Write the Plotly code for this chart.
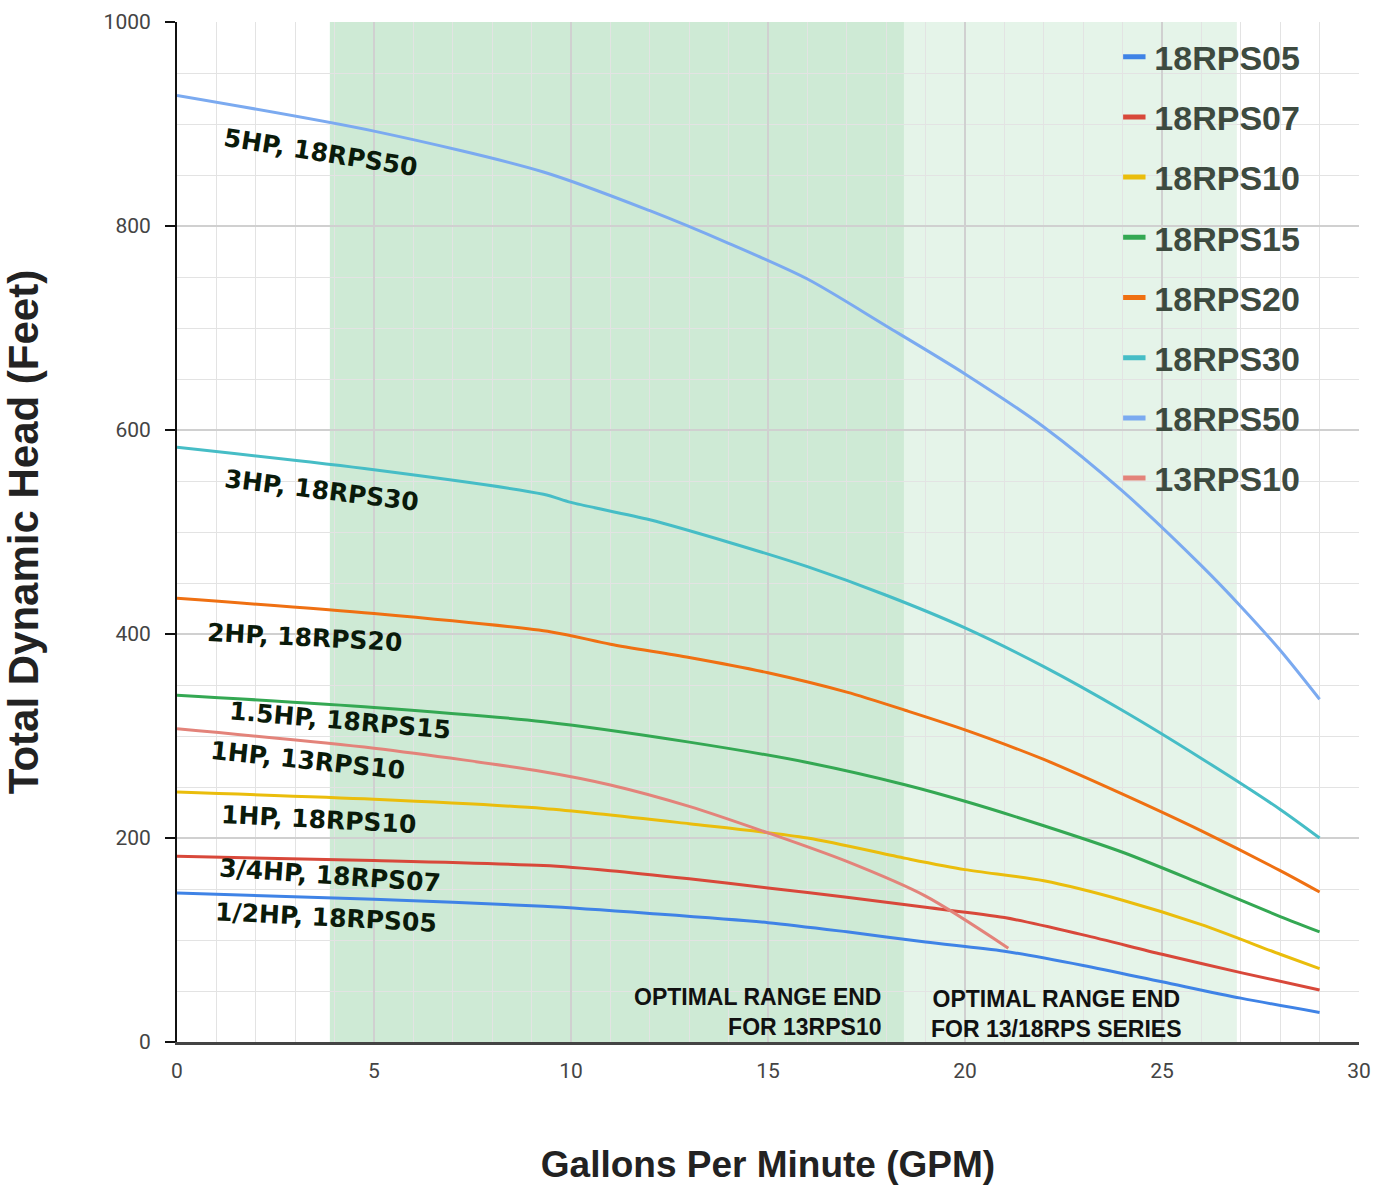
import plotly.graph_objects as go

# ---- data (GPM vs Total Dynamic Head, feet) ----
gpm_50 = [0, 5, 9.3, 12, 14, 16, 18, 20, 22, 24, 26, 27, 28, 29]
head_50 = [928, 893, 853, 815, 783, 748, 702, 655, 603, 540, 467, 427, 384, 336]

gpm_30 = [0, 5, 9.3, 10, 12, 14, 16, 18, 20, 22, 24, 26, 28, 29]
head_30 = [583, 561, 537, 529, 512, 490, 466, 438, 406, 368, 325, 278, 228, 200]

gpm_20 = [0, 5, 9.5, 11, 13, 15, 17, 18.5, 20, 22, 24, 26, 28, 29]
head_20 = [435, 420, 402, 390, 377, 362, 343, 325, 306, 277, 243, 207, 168, 147]

gpm_15 = [0, 5, 9.3, 13, 16, 18.5, 20, 22, 24, 26, 28, 29]
head_15 = [340, 328, 314, 294, 274, 252, 236, 212, 186, 155, 123, 108]

gpm_13_10 = [0, 5, 9.3, 11, 13, 15, 17, 19, 21.1]
head_13_10 = [307, 288, 265, 252, 231, 205, 177, 143, 92]

gpm_10 = [0, 5, 9.3, 13, 16, 18.5, 20, 22, 24, 26, 28, 29]
head_10 = [245, 238, 229, 214, 200, 180, 169, 158, 139, 115, 86, 72]

gpm_07 = [0, 5, 9.3, 11, 13, 15, 17, 19, 21, 23, 25, 27, 29]
head_07 = [182, 178, 173, 168, 160, 151, 142, 132, 122, 105, 86, 68, 51]

gpm_05 = [0, 5, 9.3, 12, 15, 17, 19, 21, 23, 25, 27, 29]
head_05 = [146, 140, 133, 126, 117, 108, 98, 89, 75, 59, 43, 29]

series_names = ["18RPS05", "18RPS07", "18RPS10", "18RPS15", "18RPS20", "18RPS30", "18RPS50", "13RPS10"]
series_x = [gpm_05, gpm_07, gpm_10, gpm_15, gpm_20, gpm_30, gpm_50, gpm_13_10]
series_y = [head_05, head_07, head_10, head_15, head_20, head_30, head_50, head_13_10]
series_colors = ["#3f83e6", "#d8483a", "#eabd0c", "#34a853", "#ef7012", "#46bdc6", "#7baaf0", "#e3837a"]

# curve labels: text, x (GPM), y (ft), angle
label_texts = ["5HP, 18RPS50", "3HP, 18RPS30", "2HP, 18RPS20", "1.5HP, 18RPS15",
               "1HP, 13RPS10", "1HP, 18RPS10", "3/4HP, 18RPS07", "1/2HP, 18RPS05"]
label_x = [3.63, 3.68, 3.24, 4.13, 3.32, 3.58, 3.88, 3.78]
label_y = [872, 541, 397, 315, 276, 218, 163, 122]
label_angle = [9, 7, 3, 5, 6, 3, 4, 3]

# optimal ranges (GPM)
optimal_start = 3.88
optimal_end_13rps10 = 18.45
optimal_end_series = 26.9

fig = go.Figure()

fig.add_vrect(x0=optimal_start, x1=optimal_end_series, fillcolor="rgba(52,168,83,0.13)",
              line_width=0, layer="below")
fig.add_vrect(x0=optimal_start, x1=optimal_end_13rps10, fillcolor="rgba(52,168,83,0.13)",
              line_width=0, layer="below")

for name, xs, ys, col in zip(series_names, series_x, series_y, series_colors):
    fig.add_trace(go.Scatter(
        x=xs, y=ys, name=name, mode="lines", showlegend=False,
        line=dict(color=col, width=3, shape="spline", smoothing=0.8),
        legendgroup=name,
    ))
    # legend swatch (short thick bar)
    fig.add_trace(go.Scatter(
        x=[None], y=[None], name=name, mode="markers", legendgroup=name,
        marker=dict(symbol="line-ew", size=16, color=col, line=dict(color=col, width=6)),
        hoverinfo="skip",
    ))

for t, x, y, a in zip(label_texts, label_x, label_y, label_angle):
    fig.add_annotation(x=x, y=y, text="<b>" + t + "</b>", showarrow=False, textangle=a,
                       font=dict(family="DejaVu Sans", size=25, color="#0a1a0a"))

fig.add_annotation(x=17.92, y=29.4, xanchor="right", yanchor="middle", align="right",
                   text="<b>OPTIMAL RANGE END<br>FOR 13RPS10</b>", showarrow=False,
                   font=dict(family="Liberation Sans", size=23, color="#111111"))
fig.add_annotation(x=22.33, y=27.5, xanchor="center", yanchor="middle", align="center",
                   text="<b>OPTIMAL RANGE END<br>FOR 13/18RPS SERIES</b>", showarrow=False,
                   font=dict(family="Liberation Sans", size=23, color="#111111"))

fig.update_layout(
    width=1378, height=1191,
    margin=dict(l=177, r=19, t=22, b=149),
    plot_bgcolor="rgba(0,0,0,0)", paper_bgcolor="white",
    showlegend=True,
    legend=dict(x=0.793, y=0.994, xanchor="left", yanchor="top", itemsizing="trace",
                bgcolor="rgba(0,0,0,0)", tracegroupgap=13,
                font=dict(family="Liberation Sans", size=34, color="#3d4a3f", weight="bold")),
    xaxis=dict(
        range=[0, 30], tickmode="linear", tick0=0, dtick=5, automargin=False,
        showgrid=True, gridcolor="#d0d0d0", gridwidth=1.5,
        minor=dict(dtick=1, showgrid=True, gridcolor="#e3e3e3", gridwidth=1.2),
        showline=True, linecolor="#444444", linewidth=2.5,
        ticks="", zeroline=False,
        tickfont=dict(family="Roboto", size=21, color="#444444"),
        ticklabelstandoff=8,
        title=dict(text="<b>Gallons Per Minute (GPM)</b>", standoff=70,
                   font=dict(family="Liberation Sans", size=37, color="#222222")),
    ),
    yaxis=dict(
        range=[0, 1000], tickmode="linear", tick0=0, dtick=200, automargin=False,
        showgrid=True, gridcolor="#d0d0d0", gridwidth=1.5,
        minor=dict(dtick=50, showgrid=True, gridcolor="#e3e3e3", gridwidth=1.2),
        showline=True, linecolor="#111111", linewidth=2,
        ticks="outside", ticklen=10, tickcolor="#111111", tickwidth=2,
        zeroline=False, ticklabelstandoff=10,
        tickfont=dict(family="Roboto", size=21, color="#444444"),
        title=dict(text="<b>Total Dynamic Head (Feet)</b>", standoff=57,
                   font=dict(family="Liberation Sans", size=42, color="#222222")),
    ),
)

fig.write_html("out.html", config={"displayModeBar": False},
               post_script="document.body.style.margin='0';")
